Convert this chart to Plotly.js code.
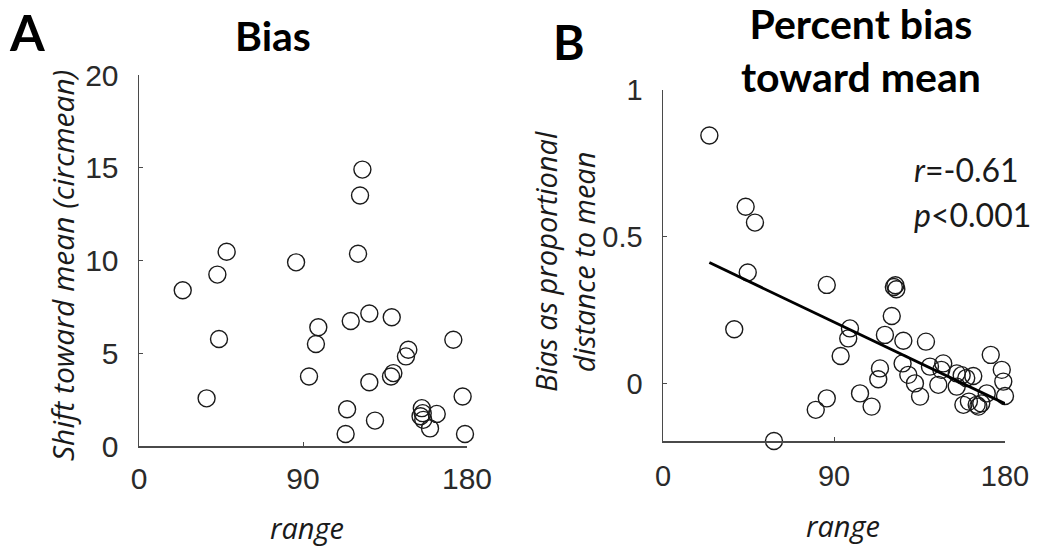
<!DOCTYPE html>
<html>
<head>
<meta charset="utf-8">
<script src="https://cdn.plot.ly/plotly-3.0.1.min.js"></script>
<style>html,body{margin:0;padding:0;background:#fff;}#chart{width:1037px;height:549px;}</style>
</head>
<body>
<div id="chart"></div>
<script>
// Panel A: Bias
const aRange = [24.0, 43.0, 48.1, 43.9, 37.1, 86.2, 98.4, 97.1, 93.3, 122.6, 121.3, 120.2, 116.2, 126.4, 138.7, 126.4, 114.2, 113.4, 129.5, 139.6, 138.3, 147.8, 146.5, 172.5, 180.7, 177.6, 178.9, 155.2, 155.7, 163.4, 156.0, 159.7, 154.5];
const aShift = [8.4, 9.24, 10.47, 5.77, 2.57, 9.9, 6.4, 5.5, 3.75, 14.9, 13.5, 10.36, 6.74, 7.14, 6.94, 3.44, 1.98, 0.65, 1.37, 3.93, 3.75, 5.19, 4.83, 5.73, 4.5, 2.67, 0.65, 2.04, 1.77, 1.73, 1.41, 0.95, 1.6];
// Panel B: Percent bias toward mean
const bRange = [24.4, 43.5, 48.4, 44.6, 37.5, 58.4, 86.2, 80.4, 86.2, 93.5, 97.5, 98.4, 103.7, 109.8, 113.3, 114.2, 116.8, 120.4, 121.5, 122.3, 122.8, 126.5, 126.1, 129.1, 132.6, 135.3, 138.4, 140.5, 144.9, 147.5, 146.5, 154.6, 157.2, 163.3, 154.6, 158.1, 165.1, 167.5, 170.4, 172.5, 180.9, 178.3, 179.1, 180.0, 159.6, 161.0, 166.0];
const bBias = [0.845, 0.603, 0.549, 0.379, 0.186, -0.194, 0.337, -0.088, -0.049, 0.095, 0.155, 0.189, -0.032, -0.077, 0.016, 0.053, 0.167, 0.231, 0.33, 0.336, 0.322, 0.147, 0.07, 0.031, 0.002, -0.043, 0.144, 0.059, -0.003, 0.07, 0.048, 0.036, 0.03, 0.027, -0.009, -0.071, -0.071, -0.066, -0.032, 0.099, 0.082, 0.048, 0.008, -0.041, 0.02, -0.06, -0.077];
// Regression line
const fitRange = [24.4, 182.6];
const fitBias = [0.413, -0.075];
// Tick labels
const xTicks = [0, 90, 180];
const aYTicks = [0, 5, 10, 15, 20];
const bYTicks = [0, 0.5, 1];

const W = 1037, H = 549;
const px = v => v / W;
const py = v => (H - v) / H;

const mk = {symbol: 'circle-open', size: 17, color: '#1a1a1a', line: {width: 1.4, color: '#1a1a1a'}};

const traces = [
  {x: aRange, y: aShift, type: 'scatter', mode: 'markers', marker: mk, xaxis: 'x', yaxis: 'y', cliponaxis: false, showlegend: false},
  {x: bRange, y: bBias, type: 'scatter', mode: 'markers', marker: mk, xaxis: 'x2', yaxis: 'y2', cliponaxis: false, showlegend: false},
  {x: fitRange, y: fitBias, type: 'scatter', mode: 'lines', line: {color: '#000', width: 2.8}, xaxis: 'x2', yaxis: 'y2', cliponaxis: false, showlegend: false}
];

const axBase = {
  showline: true, linecolor: '#4a4a4a', linewidth: 1.5,
  ticks: 'inside', ticklen: 4, tickcolor: '#4a4a4a', tickwidth: 1,
  showgrid: false, zeroline: false, mirror: false, fixedrange: true,
  tickfont: {family: 'Liberation Sans, Arial, sans-serif', size: 30, color: '#2a2a2a'}
};

const layout = {
  width: W, height: H,
  margin: {l: 0, r: 0, t: 0, b: 0},
  paper_bgcolor: '#fff', plot_bgcolor: '#fff',
  showlegend: false,
  xaxis: Object.assign({}, axBase, {domain: [px(139), px(467)], range: [0, 180], tickvals: xTicks, ticklabelstandoff: 5, anchor: 'y'}),
  yaxis: Object.assign({}, axBase, {domain: [py(446), py(75)], range: [0, 20], tickvals: aYTicks, ticklabelstandoff: 13, anchor: 'x'}),
  xaxis2: Object.assign({}, axBase, {domain: [px(663), px(1005)], range: [0, 180], tickvals: xTicks, ticklabelstandoff: 9, anchor: 'y2',
    tickfont: {family: 'Liberation Sans, Arial, sans-serif', size: 29, color: '#2a2a2a'}}),
  yaxis2: Object.assign({}, axBase, {domain: [py(441), py(90)], range: [-0.194, 1], tickvals: bYTicks, ticklabelstandoff: 13, anchor: 'x2',
    tickfont: {family: 'Liberation Sans, Arial, sans-serif', size: 29, color: '#2a2a2a'}}),
  annotations: [
    {text: '<b>A</b>', x: px(27), y: py(32), xref: 'paper', yref: 'paper', showarrow: false, xanchor: 'center', yanchor: 'middle',
      font: {family: 'Lato, sans-serif', size: 50, color: '#000'}},
    {text: '<b>Bias</b>', x: px(273), y: py(36), xref: 'paper', yref: 'paper', showarrow: false, xanchor: 'center', yanchor: 'middle',
      font: {family: 'Lato, sans-serif', size: 41, color: '#000'}},
    {text: '<b>B</b>', x: px(569), y: py(41), xref: 'paper', yref: 'paper', showarrow: false, xanchor: 'center', yanchor: 'middle',
      font: {family: 'Lato, sans-serif', size: 48, color: '#000'}},
    {text: '<b>Percent bias<br>toward mean</b>', x: px(861), y: py(50), xref: 'paper', yref: 'paper', showarrow: false, xanchor: 'center', yanchor: 'middle',
      font: {family: 'Lato, sans-serif', size: 41, color: '#000'}},
    {text: '<i>Shift toward mean (circmean)</i>', x: px(63), y: py(266), xref: 'paper', yref: 'paper', showarrow: false, textangle: -90, xanchor: 'center', yanchor: 'middle',
      font: {family: 'Open Sans, sans-serif', size: 30, color: '#1a1a1a'}},
    {text: '<i>range</i>', x: px(307), y: py(527), xref: 'paper', yref: 'paper', showarrow: false, xanchor: 'center', yanchor: 'middle',
      font: {family: 'Open Sans, sans-serif', size: 29, color: '#1a1a1a'}},
    {text: '<i>Bias as proportional<br>distance to mean</i>', x: px(564), y: py(262), xref: 'paper', yref: 'paper', showarrow: false, textangle: -90, xanchor: 'center', yanchor: 'middle',
      font: {family: 'Open Sans, sans-serif', size: 29, color: '#1a1a1a'}},
    {text: '<i>range</i>', x: px(843), y: py(525), xref: 'paper', yref: 'paper', showarrow: false, xanchor: 'center', yanchor: 'middle',
      font: {family: 'Open Sans, sans-serif', size: 29, color: '#1a1a1a'}},
    {text: '<i>r</i>=-0.61', x: px(912), y: py(170), xref: 'paper', yref: 'paper', showarrow: false, xanchor: 'left', yanchor: 'middle',
      font: {family: 'Lato, sans-serif', size: 32, color: '#1a1a1a'}},
    {text: '<i>p</i><0.001', x: px(912), y: py(214), xref: 'paper', yref: 'paper', showarrow: false, xanchor: 'left', yanchor: 'middle',
      font: {family: 'Lato, sans-serif', size: 32, color: '#1a1a1a'}}
  ]
};

Plotly.newPlot('chart', traces, layout, {displayModeBar: false, staticPlot: true});
</script>
</body>
</html>
